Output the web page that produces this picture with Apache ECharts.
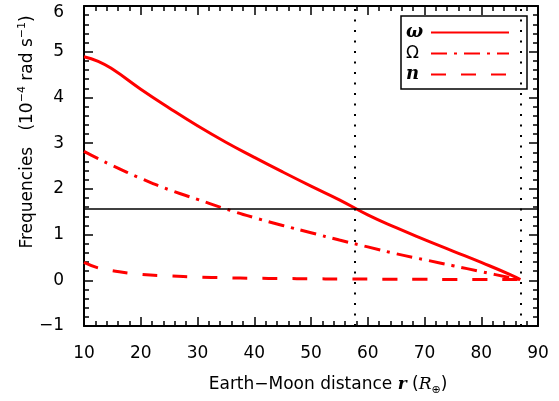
<!DOCTYPE html>
<html>
<head>
<meta charset="utf-8">
<script src="https://cdn.jsdelivr.net/npm/echarts@6/dist/echarts.min.js"></script>
<style>
  html, body { margin: 0; padding: 0; background: #fff; }
  #chart { width: 559px; height: 401px; }
</style>
</head>
<body>
<div id="chart"></div>
<script>
// Earth-Moon distance r (Earth radii)
const rValues = [10, 12.5, 15, 20, 25, 30, 35, 40, 45, 50, 55, 60, 65, 70, 75, 80, 85, 86.9];

// Frequencies in 1e-4 rad/s
const omegaValues = [4.89, 4.79, 4.62, 4.18, 3.77, 3.38, 3.02, 2.69, 2.37, 2.06, 1.76, 1.43, 1.15, 0.89, 0.64, 0.39, 0.13, 0.015];
const bigOmegaValues = [2.82, 2.66, 2.51, 2.23, 1.98, 1.77, 1.56, 1.37, 1.20, 1.04, 0.88, 0.73, 0.58, 0.45, 0.32, 0.19, 0.06, 0.015];
const nValues = [0.39, 0.27, 0.21, 0.13, 0.095, 0.07, 0.055, 0.045, 0.039, 0.033, 0.029, 0.026, 0.023, 0.021, 0.019, 0.017, 0.016, 0.015];

// Reference lines: present Moon distance, synchronous distance, present omega
const rNow = 57.7;
const rSync = 86.9;
const omegaNow = 1.57;

const xTicks = [10, 20, 30, 40, 50, 60, 70, 80, 90];
const yTicks = [-1, 0, 1, 2, 3, 4, 5, 6];

const FONT = 'DejaVu Sans';

function pairs(ys) {
  return rValues.map((r, i) => [r, ys[i]]);
}

// one side of the box frame, ticks pointing inward
function boxAxis(pos, min, max, showLabels) {
  return {
    type: 'value',
    position: pos,
    min: min,
    max: max,
    interval: 1,
    splitLine: { show: false },
    axisLine: { show: true, onZero: false, lineStyle: { color: '#000', width: 2 } },
    axisTick: { show: true, inside: true, length: 9, lineStyle: { color: '#000', width: 1.5 } },
    minorTick: { show: true, splitNumber: 5, length: 5, lineStyle: { color: '#000', width: 1.5 } },
    axisLabel: { show: showLabels }
  };
}

const chart = echarts.init(document.getElementById('chart'), null, { renderer: 'canvas' });

const xBottom = boxAxis('bottom', xTicks[0], xTicks[xTicks.length - 1], true);
xBottom.interval = 10;
xBottom.axisLabel = { show: true, fontFamily: FONT, fontSize: 17, color: '#000', margin: 19 };
xBottom.name = '{t|Earth\u2212Moon distance }{bi|r}{t| (}{i|R}{sub|\u2295}{t|)}';
xBottom.nameLocation = 'middle';
xBottom.nameGap = 48;
xBottom.nameTextStyle = {
  padding: [0, 0, 0, 34],
  rich: {
    t: { fontFamily: FONT, fontSize: 17, color: '#000', lineHeight: 22 },
    bi: { fontFamily: 'DejaVu Serif', fontSize: 17, fontWeight: 'bold', fontStyle: 'italic', color: '#000', lineHeight: 22 },
    i: { fontFamily: 'DejaVu Serif', fontSize: 17, fontStyle: 'italic', color: '#000', lineHeight: 22 },
    sub: { fontFamily: FONT, fontSize: 11, color: '#000', lineHeight: 12, verticalAlign: 'bottom' }
  }
};
const xTop = boxAxis('top', xTicks[0], xTicks[xTicks.length - 1], false);
xTop.interval = 10;

const yLeft = boxAxis('left', yTicks[0], yTicks[yTicks.length - 1], true);
yLeft.axisLabel = {
  show: true, fontFamily: FONT, fontSize: 17, color: '#000', margin: 20,
  formatter: function(v) {
    const s = String(v).replace('-', '\u2212');
    // top label sits a little below the frame in the original
    return v === yTicks[yTicks.length - 1] ? '{top|' + s + '}' : s;
  },
  rich: {
    top: { fontFamily: FONT, fontSize: 17, color: '#000', padding: [14, 0, 0, 0] }
  }
};
const yRight = boxAxis('right', yTicks[0], yTicks[yTicks.length - 1], false);

const option = {
  animation: false,
  backgroundColor: '#fff',
  grid: { left: 84, right: 21, top: 6, bottom: 71.5, containLabel: false },
  xAxis: [xBottom, xTop],
  yAxis: [yLeft, yRight],
  legend: {
    orient: 'vertical',
    right: 32,
    top: 16,
    align: 'right',
    itemWidth: 78,
    itemHeight: 14,
    itemGap: 0,
    padding: [6, 17, 4, 5],
    borderColor: '#000',
    borderWidth: 1.5,
    borderRadius: 0,
    itemStyle: { opacity: 0 },
    data: ['omega', 'Omega', 'n'],
    formatter: function(name) {
      if (name === 'omega') return '{gi|\u03c9}';
      if (name === 'Omega') return '{g|\u03a9}';
      return '{gi|n}';
    },
    textStyle: {
      width: 20,
      lineHeight: 21,
      rich: {
        gi: { fontFamily: 'DejaVu Serif', fontSize: 18, fontWeight: 'bold', fontStyle: 'italic', color: '#000', lineHeight: 21, align: 'left' },
        g: { fontFamily: FONT, fontSize: 17, color: '#000', lineHeight: 21, align: 'left' }
      }
    }
  },
  graphic: [{
    type: 'text',
    x: 28,
    y: 132,
    rotation: Math.PI / 2,
    style: {
      text: '{t|Frequencies   (10}{sup|\u22124}{t| rad s}{sup|\u22121}{t|)}',
      align: 'center',
      verticalAlign: 'middle',
      rich: {
        t: { fontFamily: FONT, fontSize: 17, fill: '#000', lineHeight: 22 },
        sup: { fontFamily: FONT, fontSize: 11, fill: '#000', lineHeight: 12, verticalAlign: 'top' }
      }
    }
  }],
  series: [
    {
      name: 'omega',
      type: 'line',
      data: pairs(omegaValues),
      smooth: true,
      symbol: 'none',
      lineStyle: { color: '#ff0000', width: 3 },
      itemStyle: { color: '#ff0000' },
      z: 3,
      markLine: {
        silent: true,
        symbol: 'none',
        label: { show: false },
        data: [
          { yAxis: omegaNow, lineStyle: { color: '#000', width: 1.5, type: 'solid' } },
          { xAxis: rNow, lineStyle: { color: '#000', width: 2, type: [2, 8.5] } },
          { xAxis: rSync, lineStyle: { color: '#000', width: 2, type: [2, 8.5] } }
        ]
      }
    },
    {
      name: 'Omega',
      type: 'line',
      data: pairs(bigOmegaValues),
      smooth: true,
      symbol: 'none',
      lineStyle: { color: '#ff0000', width: 3, type: [16, 7, 3, 7] },
      itemStyle: { color: '#ff0000' },
      z: 3
    },
    {
      name: 'n',
      type: 'line',
      data: pairs(nValues),
      smooth: true,
      symbol: 'none',
      lineStyle: { color: '#ff0000', width: 3, type: [15, 15] },
      itemStyle: { color: '#ff0000' },
      z: 3
    }
  ]
};

chart.setOption(option);
</script>
</body>
</html>
